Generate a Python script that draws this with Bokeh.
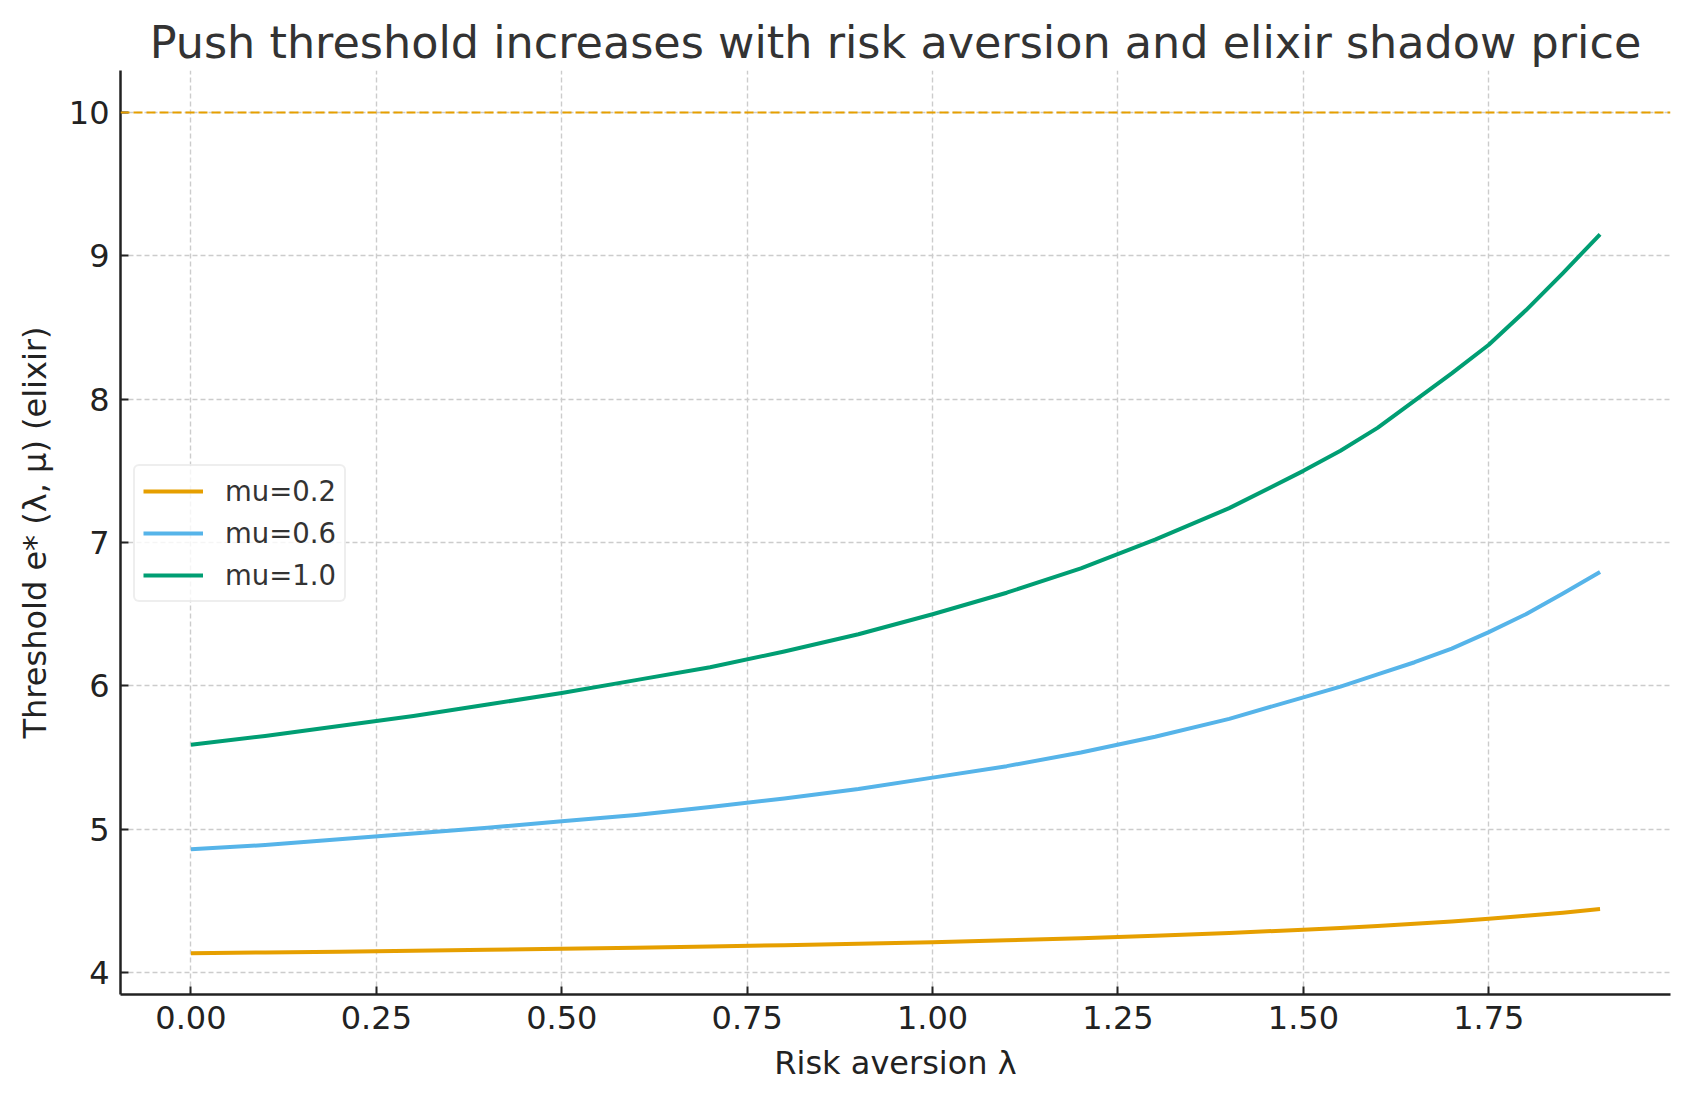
from bokeh.plotting import figure
from bokeh.models import Span, Legend, LegendItem, FixedTicker, Range1d, PrintfTickFormatter
from bokeh.embed import file_html
from bokeh.resources import INLINE

# risk aversion grid and thresholds
lam = [0.0, 0.1, 0.2, 0.3, 0.4, 0.5, 0.6, 0.7, 0.8, 0.9,
       1.0, 1.1, 1.2, 1.3, 1.4, 1.5, 1.55, 1.6, 1.65, 1.7,
       1.75, 1.8, 1.85, 1.9]
thr_mu02 = [4.135, 4.140, 4.146, 4.153, 4.159, 4.166, 4.173, 4.181, 4.191, 4.201,
            4.212, 4.225, 4.240, 4.257, 4.276, 4.299, 4.311, 4.325, 4.340, 4.357,
            4.376, 4.397, 4.418, 4.443]
thr_mu06 = [4.860, 4.890, 4.930, 4.970, 5.010, 5.055, 5.100, 5.155, 5.215, 5.280,
            5.360, 5.440, 5.535, 5.645, 5.770, 5.920, 5.995, 6.080, 6.165, 6.260,
            6.375, 6.500, 6.645, 6.795]
thr_mu10 = [5.590, 5.650, 5.720, 5.790, 5.870, 5.950, 6.040, 6.130, 6.240, 6.360,
            6.500, 6.650, 6.820, 7.020, 7.240, 7.500, 7.640, 7.800, 7.990, 8.180,
            8.380, 8.620, 8.880, 9.150]
series_labels = ["mu=0.2", "mu=0.6", "mu=1.0"]
elixir_cap = 10

x_ticks = [0.0, 0.25, 0.5, 0.75, 1.0, 1.25, 1.5, 1.75]
y_ticks = [4, 5, 6, 7, 8, 9, 10]

colors = ["#E69F00", "#56B4E9", "#009E73"]
font = "DejaVu Sans"

p = figure(
    width=1674, height=1085,
    x_range=Range1d(-0.095, 1.995), y_range=Range1d(3.847, 10.293),
    output_backend="svg", toolbar_location=None,
    min_border_left=120, min_border_right=4, min_border_top=70, min_border_bottom=91,
    title="Push threshold increases with risk aversion and elixir shadow price",
)
p.outline_line_color = None
p.background_fill_color = "white"
p.border_fill_color = "white"

p.title.text_font = font
p.title.text_font_size = "44.5px"
p.title.text_font_style = "normal"
p.title.text_color = "#333333"
p.title.align = "center"
p.title.standoff = 6

for ax in (p.xaxis[0], p.yaxis[0]):
    ax.axis_line_color = "#222222"
    ax.axis_line_width = 2.5
    ax.major_tick_line_color = "#222222"
    ax.major_tick_line_width = 2
    ax.major_tick_in = 8
    ax.major_tick_out = 0
    ax.minor_tick_line_color = None
    ax.major_label_text_font = font
    ax.major_label_text_font_size = "32px"
    ax.major_label_text_color = "#222222"
    ax.axis_label_text_font = font
    ax.axis_label_text_font_size = "32px"
    ax.axis_label_text_font_style = "normal"
    ax.axis_label_text_color = "#222222"

p.xaxis.ticker = FixedTicker(ticks=x_ticks)
p.xaxis.formatter = PrintfTickFormatter(format="%.2f")
p.xaxis.major_label_standoff = 11
p.xaxis.axis_label = "Risk aversion λ"
p.xaxis.axis_label_standoff = 12

p.yaxis.ticker = FixedTicker(ticks=y_ticks)
p.yaxis.major_label_standoff = 11
p.yaxis.axis_label = "Threshold e* (λ, μ) (elixir)"
p.yaxis.axis_label_standoff = 12

for g in (p.xgrid[0], p.ygrid[0]):
    g.grid_line_color = "#cccccc"
    g.grid_line_width = 1.4
    g.grid_line_dash = "5 3"

cap = Span(location=elixir_cap, dimension="width", line_color=colors[0],
           line_width=2, line_dash="9 4")
p.add_layout(cap)

items = []
for ys, c, lab in zip([thr_mu02, thr_mu06, thr_mu10], colors, series_labels):
    r = p.line(lam, ys, line_color=c, line_width=4, line_join="round")
    items.append(LegendItem(label=lab, renderers=[r]))

legend = Legend(items=items, location=(13, 392))
legend.label_text_font = font
legend.label_text_font_size = "27.5px"
legend.label_text_color = "#333333"
legend.glyph_width = 60
legend.glyph_height = 34
legend.label_height = 34
legend.label_standoff = 22
legend.spacing = 8
legend.padding = 8
legend.margin = 0
legend.border_line_color = "#dddddd"
legend.border_line_width = 2
legend.background_fill_color = "white"
legend.background_fill_alpha = 0.8
if "border_radius" in Legend.properties():
    legend.border_radius = 6
p.add_layout(legend, "center")

open("out.html", "w").write(file_html(p, INLINE))
